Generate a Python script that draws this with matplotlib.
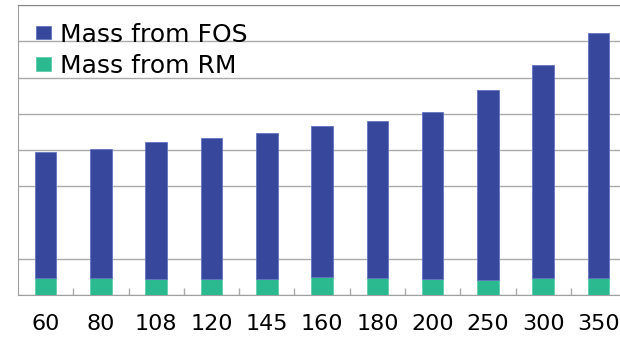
import numpy as np
import matplotlib
matplotlib.use('Agg')
import matplotlib.pyplot as plt

# Категории и значения столбцов
categories = ['60', '80', '108', '120', '145', '160', '180', '200', '250', '300', '350']
mass_rm = [4.7, 4.7, 4.5, 4.5, 4.5, 4.9, 4.7, 4.5, 4.2, 4.7, 4.7]
mass_fos = [34.7, 35.6, 37.6, 38.7, 40.3, 41.8, 43.4, 46.0, 52.3, 58.8, 67.7]
grid_levels = [0, 10, 30, 40, 50, 60, 70, 80]

plt.rcParams['font.family'] = ['DejaVu Sans']

fig = plt.figure(figsize=(6.2, 3.41), dpi=100)
ax = fig.add_axes([0.029, 0.135, 0.981, 0.850])

x = np.arange(len(categories))
width = 0.39

# Нижняя часть столбца (RM), сверху FOS
ax.bar(x, mass_rm, width, color='#2bb98f', edgecolor='#5fcfae', linewidth=0.6,
       label='Mass from RM', zorder=3)
ax.bar(x, mass_fos, width, bottom=mass_rm, color='#37489c', edgecolor='#6574c2',
       linewidth=0.6, label='Mass from FOS', zorder=3)

ax.set_xlim(-0.5, len(categories) - 0.5)
ax.set_ylim(0, 80)

# Сетка по оси Y без подписей
ax.set_yticks(grid_levels)
ax.yaxis.grid(True, color='#aaaaaa', linewidth=1.0, zorder=0)
ax.tick_params(axis='y', left=False, labelleft=False)

# Подписи категорий и маленькие засечки между столбцами
ax.set_xticks(x)
ax.set_xticklabels(categories, fontsize=16)
ax.set_xticks(np.arange(len(categories)) + 0.5, minor=True)
ax.tick_params(axis='x', which='major', length=0, pad=14)
ax.tick_params(axis='x', which='minor', direction='in', length=5, color='#aaaaaa', width=1)

ax.spines['left'].set_color('#a0a0a0')
ax.spines['bottom'].set_color('#a0a0a0')
ax.spines['top'].set_color('#888888')
ax.spines['right'].set_visible(False)

# Легенда: FOS первым
handles, labels = ax.get_legend_handles_labels()
ax.legend(handles[::-1], labels[::-1], loc='upper left', bbox_to_anchor=(0.03, 0.94),
          frameon=False, fontsize=18, handlelength=0.6, handleheight=0.45,
          handletextpad=0.35, labelspacing=0.3, borderpad=0, borderaxespad=0)

plt.savefig('out.png', dpi=100)
